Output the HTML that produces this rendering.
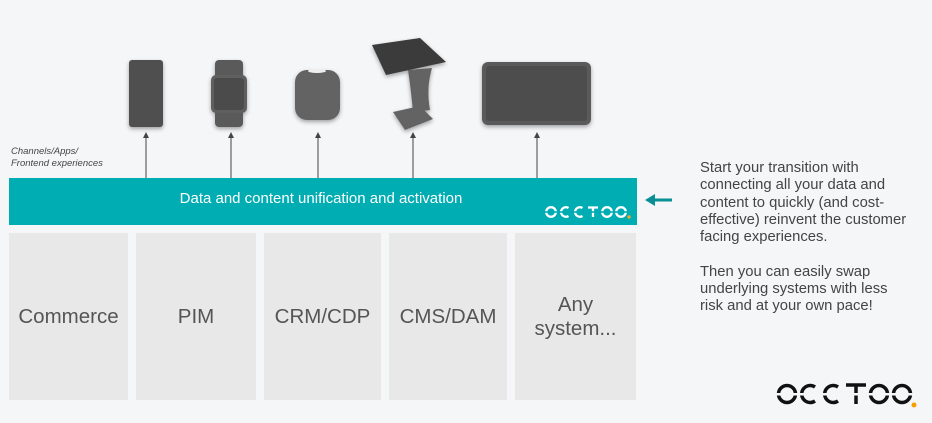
<!DOCTYPE html>
<html><head><style>
body{margin:0;width:932px;height:423px;background:#f5f6f8;font-family:"Liberation Sans",sans-serif;position:relative;overflow:hidden}
.a{position:absolute}
.box{position:absolute;top:233px;height:167px;background:#e8e8e8;color:#555;font-size:20.5px;display:flex;align-items:center;justify-content:center;text-align:center;line-height:24px}
.bar{position:absolute;left:9px;top:178px;width:628px;height:47px;background:#00adb3}
.txt{position:absolute;left:700px;top:160px;font-size:14.8px;line-height:17.3px;color:#444;white-space:nowrap}
</style></head><body>
<svg class="a" style="left:0;top:0" width="932" height="423">
<defs><filter id="sh"><feDropShadow dx="0" dy="2" stdDeviation="2" flood-opacity="0.35"/></filter></defs>
<g stroke="#444" stroke-width="1">
<line x1="146" y1="178" x2="146" y2="135"/><line x1="231" y1="178" x2="231" y2="135"/><line x1="318" y1="178" x2="318" y2="135"/><line x1="413" y1="178" x2="413" y2="135"/><line x1="537" y1="178" x2="537" y2="135"/>
</g>
<g fill="#444"><path d="M143,138 L146,132 L149,138z"/><path d="M228,138 L231,132 L234,138z"/><path d="M315,138 L318,132 L321,138z"/><path d="M410,138 L413,132 L416,138z"/><path d="M534,138 L537,132 L540,138z"/></g>
<g filter="url(#sh)">
<rect x="129" y="60" width="34" height="67" rx="3" fill="#505050"/>
<rect x="215" y="60" width="28" height="67" rx="4" fill="#5a5a5a"/>
<rect x="211" y="75" width="36" height="38" rx="5" fill="#5f5f5f"/><rect x="214" y="78" width="30" height="32" rx="3" fill="#4c4c4c"/>
<rect x="295" y="70" width="45" height="50" rx="12" fill="#636363"/>
<path d="M408,70 L432,68 Q426,88 430,110 L413,112 Q411,90 408,70z" fill="#636363"/>
<path d="M393,112 L420,106 L433,119 L405,130z" fill="#636363"/>
<path d="M372,45 L420,38 L446,62 L386,75z" fill="#3a3a3a"/>
<rect x="482" y="62" width="109" height="63" rx="6" fill="#5a5a5a"/><rect x="486" y="66" width="101" height="55" rx="3" fill="#4e4e4e"/>
</g>
<ellipse cx="317" cy="71" rx="9" ry="2" fill="#eee"/>
<path d="M672,200 L650,200" stroke="#0a8f97" stroke-width="3"/><path d="M645,200 L655,194 L655,206z" fill="#0a8f97"/>
</svg>
<div class="a" style="left:11px;top:146px;font-size:9.5px;font-style:italic;color:#444;line-height:12px">Channels/Apps/<br>Frontend experiences</div>
<div class="bar"></div>
<div class="a" style="left:9px;top:190px;width:628px;text-align:center;color:#fff;font-size:15px"><span style="position:relative;left:-2px">Data and content unification and activation</span></div>
<svg class="a" style="left:544px;top:204px" width="90" height="16">
<g fill="none" stroke="#fff" stroke-width="2.3">
<circle cx="7" cy="8" r="4.8"/><path d="M24.5,4 A4.8,4.8 0 1 0 24.5,12"/><path d="M38.5,4 A4.8,4.8 0 1 0 38.5,12"/><path d="M44,3.5 H54 M49,3.5 V13"/><circle cx="63" cy="8" r="4.8"/><circle cx="77" cy="8" r="4.8"/></g>
<rect x="0" y="7.2" width="84" height="1.6" fill="#00adb3"/><circle cx="85" cy="13" r="1.7" fill="#f5a623"/></svg>
<div class="box" style="left:9px;width:119px">Commerce</div>
<div class="box" style="left:136px;width:120px">PIM</div>
<div class="box" style="left:264px;width:117px">CRM/CDP</div>
<div class="box" style="left:389px;width:118px">CMS/DAM</div>
<div class="box" style="left:515px;width:121px">Any<br>system...</div>
<div class="txt">Start your transition with<br>connecting all your data and<br>content to quickly (and cost-<br>effective) reinvent the customer<br>facing experiences.<br><br>Then you can easily swap<br>underlying systems with less<br>risk and at your own pace!</div>
<svg class="a" style="left:774px;top:381px" width="150" height="30">
<g fill="none" stroke="#111" stroke-width="3.5">
<circle cx="13" cy="13" r="8.5"/><path d="M41,6 A8.5,8.5 0 1 0 41,20"/><path d="M64,6 A8.5,8.5 0 1 0 64,20"/><path d="M72,4 H92 M82,4 V23"/><circle cx="105" cy="13" r="8.5"/><circle cx="128" cy="13" r="8.5"/></g>
<rect x="0" y="12" width="150" height="2.5" fill="#f5f6f8"/><circle cx="140" cy="24" r="2.5" fill="#f5a000"/></svg>
</body></html>
